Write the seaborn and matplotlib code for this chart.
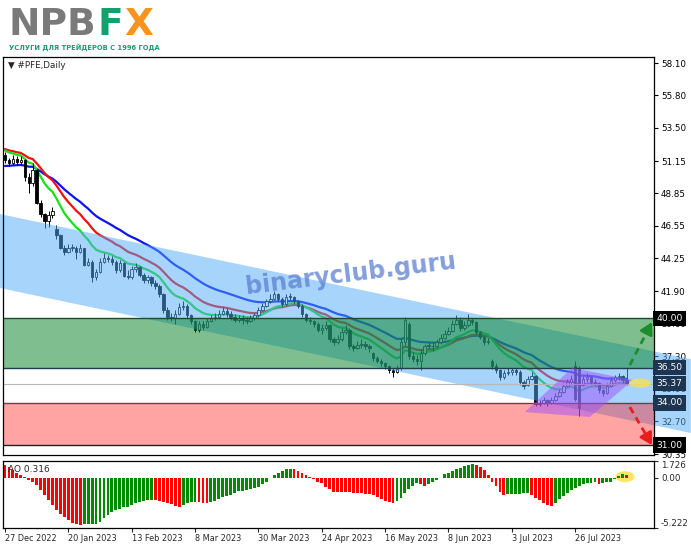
import numpy as np
import pandas as pd
import matplotlib
matplotlib.use("Agg")
import matplotlib.pyplot as plt
import seaborn as sns
from matplotlib.patches import Polygon, Ellipse

sns.set_style("white")
plt.rcParams['font.family'] = ['DejaVu Sans']

# ---- data ----
close = [51.2, 51.0, 51.3, 51.1, 51.2, 50.0, 49.6, 50.5, 48.2, 47.4,
         46.9, 47.3, 47.6, 45.9, 45.0, 44.7, 45.0, 45.0, 44.7, 45.0,
         43.8, 44.0, 42.9, 43.3, 44.0, 44.3, 44.2, 44.0, 43.4, 43.9,
         43.0, 42.9, 43.5, 43.6, 43.1, 42.7, 42.9, 42.5, 42.3, 41.7,
         40.6, 40.1, 40.0, 40.3, 40.8, 40.9, 40.2, 39.8, 39.2, 39.6,
         39.4, 39.8, 40.0, 40.1, 40.3, 40.5, 40.3, 40.1, 39.9, 40.0,
         39.9, 39.8, 40.0, 40.2, 40.6, 40.9, 41.2, 41.4, 41.7, 41.4,
         41.0, 41.5, 41.5, 41.2, 40.9, 40.3, 39.9, 39.8, 39.6, 39.2,
         39.3, 39.5, 38.5, 38.3, 38.5, 39.0, 39.2, 38.0, 37.9, 38.1,
         38.2, 38.0, 37.9, 37.2, 37.0, 36.8, 36.6, 36.3, 36.2, 36.4,
         38.3, 39.9, 37.3, 37.1, 37.0, 37.5, 38.0, 38.0, 38.0, 38.3,
         38.6, 38.9, 39.1, 39.6, 39.9, 39.3, 39.5, 39.9, 39.7, 39.0,
         38.7, 38.3, 38.4, 36.6, 36.3, 35.8, 36.1, 36.2, 36.3, 36.2,
         35.5, 35.2, 35.7, 35.9, 33.9, 34.0, 34.2, 34.0, 34.2, 34.5,
         34.8, 35.2, 35.5, 35.7, 34.3, 33.6, 35.7, 35.8, 35.5, 35.4,
         34.9, 34.7, 35.2, 35.6, 35.8, 35.9, 35.6, 35.37]
opens = [51.6, 51.2, 51.0, 51.3, 51.1, 51.2, 50.0, 49.6, 50.5, 48.2,
         47.4, 46.9, 47.3, 46.3, 45.9, 45.0, 44.7, 45.0, 45.0, 44.7,
         45.0, 43.8, 44.0, 42.9, 43.3, 44.0, 44.3, 44.2, 44.0, 43.4,
         43.9, 43.0, 42.9, 43.5, 43.6, 43.1, 42.7, 42.9, 42.5, 42.3,
         41.7, 40.6, 40.1, 40.0, 40.3, 40.8, 40.9, 40.2, 39.8, 39.2,
         39.6, 39.4, 39.8, 40.0, 40.1, 40.3, 40.5, 40.3, 40.1, 39.9,
         40.0, 39.9, 39.8, 40.0, 40.2, 40.6, 40.9, 41.2, 41.4, 41.7,
         41.4, 41.0, 41.6, 41.5, 41.2, 40.9, 40.3, 39.9, 39.8, 39.6,
         39.2, 39.3, 39.5, 38.5, 38.3, 38.5, 39.0, 39.2, 38.0, 37.9,
         38.1, 38.2, 38.0, 37.5, 37.2, 37.0, 36.8, 36.6, 36.3, 36.2,
         36.5, 38.3, 39.6, 37.3, 37.1, 37.0, 37.5, 38.1, 38.0, 38.0,
         38.3, 38.6, 38.9, 39.1, 39.6, 39.9, 39.3, 39.5, 39.9, 39.7,
         39.0, 38.7, 38.3, 37.0, 36.6, 36.3, 35.8, 36.1, 36.2, 36.3,
         36.2, 35.5, 35.3, 35.7, 35.9, 33.9, 34.0, 34.2, 34.0, 34.2,
         34.5, 34.8, 35.2, 35.5, 36.6, 36.4, 35.3, 35.7, 35.8, 35.5,
         35.4, 34.9, 34.7, 35.2, 35.6, 35.8, 35.9, 35.6]
highs = [51.8, 51.4, 51.6, 51.5, 51.5, 51.3, 50.3, 51.0, 50.6, 48.4,
         47.5, 47.6, 47.9, 46.6, 46.0, 45.2, 45.3, 45.3, 45.1, 45.3,
         45.0, 44.3, 44.1, 43.5, 44.3, 44.6, 44.5, 44.4, 44.1, 44.1,
         44.0, 43.4, 43.7, 43.9, 43.7, 43.2, 43.1, 43.0, 42.7, 42.4,
         41.8, 40.8, 40.4, 40.6, 41.1, 41.2, 41.0, 40.3, 39.9, 39.8,
         39.8, 40.0, 40.2, 40.4, 40.6, 40.8, 40.7, 40.5, 40.3, 40.2,
         40.2, 40.1, 40.2, 40.4, 40.8, 41.1, 41.4, 41.7, 41.9, 41.8,
         41.5, 41.7, 41.8, 41.6, 41.3, 41.0, 40.4, 40.1, 39.9, 39.7,
         39.6, 39.8, 39.6, 38.7, 38.8, 39.3, 39.5, 39.3, 38.2, 38.4,
         38.5, 38.4, 38.2, 37.6, 37.3, 37.1, 36.9, 36.7, 36.5, 36.7,
         38.6, 40.1, 39.7, 37.6, 37.4, 37.8, 38.2, 38.3, 38.3, 38.5,
         38.9, 39.2, 39.4, 39.9, 40.2, 40.1, 39.8, 40.3, 40.0, 39.8,
         39.1, 38.8, 38.6, 37.1, 36.8, 36.4, 36.3, 36.5, 36.5, 36.5,
         36.3, 35.6, 35.9, 36.2, 36.0, 34.2, 34.4, 34.3, 34.4, 34.7,
         35.0, 35.4, 35.7, 36.0, 37.0, 36.6, 35.9, 36.1, 35.9, 35.7,
         35.5, 35.0, 35.4, 35.8, 36.0, 36.1, 36.0, 36.5]
lows = [51.0, 50.8, 50.9, 50.9, 50.9, 49.7, 48.9, 49.4, 48.1, 47.2,
        46.4, 46.5, 47.1, 45.6, 44.9, 44.5, 44.6, 44.8, 44.2, 44.6,
        43.7, 43.7, 42.6, 42.7, 43.2, 43.9, 44.0, 43.8, 43.2, 43.3,
        42.9, 42.8, 42.8, 43.3, 42.9, 42.5, 42.5, 42.3, 42.1, 41.5,
        40.4, 39.9, 39.8, 39.6, 40.2, 40.6, 40.0, 39.6, 39.0, 39.0,
        39.2, 39.3, 39.7, 39.9, 40.0, 40.2, 40.1, 39.9, 39.7, 39.7,
        39.6, 39.6, 39.7, 39.9, 40.1, 40.5, 40.8, 41.1, 41.3, 41.2,
        40.8, 40.9, 41.3, 41.0, 40.7, 40.1, 39.7, 39.6, 39.4, 39.0,
        38.9, 39.2, 38.3, 38.1, 38.2, 38.4, 38.9, 37.8, 37.7, 37.8,
        37.9, 37.8, 37.6, 37.0, 36.8, 36.6, 36.4, 36.1, 35.8, 36.1,
        36.3, 38.0, 37.1, 36.9, 36.7, 36.3, 37.4, 37.8, 37.7, 37.9,
        38.2, 38.5, 38.8, 39.0, 39.5, 39.1, 39.2, 39.4, 39.5, 38.8,
        38.5, 38.1, 38.2, 36.4, 36.1, 35.6, 35.7, 36.0, 36.0, 36.0,
        35.3, 35.0, 35.2, 35.6, 33.8, 33.8, 33.9, 33.8, 33.9, 34.1,
        34.4, 34.7, 35.1, 35.4, 34.1, 33.1, 35.2, 35.5, 35.3, 35.2,
        34.7, 34.5, 34.6, 35.1, 35.5, 35.6, 35.4, 35.3]
ao = [1.30, 1.10, 0.75, 0.45, 0.28, 0.10, -0.24, -0.48, -0.76, -1.28,
      -1.80, -2.32, -2.83, -3.35, -3.77, -4.05, -4.39, -4.67, -4.80, -4.86,
      -4.84, -4.83, -4.82, -4.80, -4.56, -4.22, -3.87, -3.53, -3.35, -3.21,
      -3.08, -3.01, -2.84, -2.67, -2.49, -2.38, -2.32, -2.30, -2.31, -2.38,
      -2.49, -2.60, -2.77, -2.95, -3.01, -2.84, -2.67, -2.56, -2.49, -2.56,
      -2.67, -2.68, -2.56, -2.39, -2.25, -2.04, -1.91, -1.77, -1.56, -1.42,
      -1.35, -1.28, -1.21, -1.11, -0.93, -0.65, -0.41, -0.07, 0.28, 0.52,
      0.73, 0.87, 0.94, 0.87, 0.73, 0.52, 0.28, 0.04, -0.17, -0.41,
      -0.59, -0.93, -1.21, -1.45, -1.50, -1.51, -1.52, -1.53, -1.55, -1.58,
      -1.63, -1.66, -1.73, -1.83, -1.97, -2.18, -2.42, -2.53, -2.60, -2.42,
      -2.08, -1.56, -1.14, -0.87, -0.52, -0.69, -0.87, -0.69, -0.45, -0.24,
      -0.02, 0.35, 0.52, 0.69, 0.87, 1.04, 1.21, 1.31, 1.38, 1.31,
      1.14, 0.80, 0.24, -0.42, -0.87, -1.49, -1.76, -1.72, -1.68, -1.66,
      -1.65, -1.64, -1.63, -1.80, -2.08, -2.35, -2.60, -2.87, -2.94, -2.66,
      -2.25, -1.90, -1.56, -1.28, -1.04, -0.87, -0.69, -0.59, -0.52, -0.50,
      -0.62, -0.52, -0.50, -0.42, -0.10, 0.15, 0.35, 0.316]

date_labels = ["27 Dec 2022", "20 Jan 2023", "13 Feb 2023", "8 Mar 2023", "30 Mar 2023",
               "24 Apr 2023", "16 May 2023", "8 Jun 2023", "3 Jul 2023", "26 Jul 2023"]
date_bars = [0, 16, 32, 48, 64, 80, 96, 112, 128, 144]
price_ticks = [58.10, 55.80, 53.50, 51.15, 48.85, 46.55, 44.25, 41.90, 39.60, 37.30, 35.00, 32.70, 30.35]

# start values of the three averages at the left edge
ma_start = {'fast': 51.9, 'mid': 52.0, 'slow': 50.8}
ma_span = {'fast': 12, 'mid': 20, 'slow': 34}

# levels
zone_up = (36.50, 40.00)
zone_down = (31.00, 34.00)
last_price = 35.37
channel_x = [-1.26, 173.2]
channel_top = [47.39, 37.10]
channel_bot = [42.14, 31.86]
wedge = [(131.3, 33.35), (143.2, 36.47), (158.6, 35.62), (147.7, 33.0)]


def ema(values, span, start):
    k = 2.0 / (span + 1)
    out = [start]
    for v in values[1:]:
        out.append(out[-1] + k * (v - out[-1]))
    return np.array(out)


df = pd.DataFrame({'bar': np.arange(len(close)), 'open': opens, 'high': highs,
                   'low': lows, 'close': close, 'ao': ao})
for name in ma_span:
    df[name] = ema(close, ma_span[name], ma_start[name])

W, H = 691, 549
fig = plt.figure(figsize=(W / 100, H / 100), dpi=100)


def fx(px):
    return px / W


def fy(py):
    return 1 - py / H


ax = fig.add_axes([fx(3), fy(455), fx(654) - fx(3), fy(57) - fy(455)])
ax2 = fig.add_axes([fx(3), fy(528), fx(654) - fx(3), fy(461) - fy(528)])

# moving averages
sns.lineplot(data=df, x='bar', y='slow', color='#0A14F0', lw=1.6, ax=ax, zorder=1)
sns.lineplot(data=df, x='bar', y='mid', color='#F01010', lw=1.6, ax=ax, zorder=1)
sns.lineplot(data=df, x='bar', y='fast', color='#18E018', lw=1.6, ax=ax, zorder=1)

# candles
up = df['close'] >= df['open']
ax.vlines(df['bar'], df['low'], df['high'], color='black', lw=0.7, zorder=1.1)
body = (df['close'] - df['open']).abs().clip(lower=0.06)
ax.bar(df['bar'], body, bottom=df[['open', 'close']].min(axis=1), width=0.62,
       color=np.where(up, 'white', 'black'), edgecolor='black', linewidth=0.6, zorder=1.2)

# channel (runs over the price scale on the right)
chan = Polygon([(channel_x[0], channel_top[0]), (channel_x[1], channel_top[1]),
                (channel_x[1], channel_bot[1]), (channel_x[0], channel_bot[0])],
               closed=True, fc='#51ABF7', alpha=0.5, ec='none', zorder=1.5, clip_on=False)
ax.add_patch(chan)

# zones
ax.axhspan(*zone_up, fc='#018121', alpha=0.5, ec='none', zorder=1.6)
ax.axhspan(*zone_down, fc='#FF1919', alpha=0.4, ec='none', zorder=1.6)
ax.axhline(zone_up[1], color='#1E4A2E', lw=1.0, zorder=1.7)
ax.axhline(zone_up[0], color='#1E3F4A', lw=1.0, zorder=1.7)
ax.axhline(zone_down[1], color='#7A3A4A', lw=1.0, zorder=1.7)
ax.axhline(zone_down[0], color='#202020', lw=1.0, zorder=1.7)
ax.axhline(last_price, color='#B8B8B8', lw=0.8, zorder=1.7)

ax.add_patch(Polygon(wedge, closed=True, fc='#A050FF', alpha=0.5, ec='none', zorder=1.8))
ax.add_patch(Ellipse((160.4, 35.4), 5.5, 0.65, fc='#FFE14D', alpha=0.75, ec='none', zorder=1.9))

# forecast arrows
for (x0, y0), (x1, y1), col in [((157.8, 36.68), (163.4, 39.73), '#1E8C2A'),
                                 ((157.8, 33.70), (163.4, 31.00), '#E81E1E')]:
    xm, ym = x0 + 0.78 * (x1 - x0), y0 + 0.78 * (y1 - y0)
    ax.plot([x0, xm], [y0, ym], ls=(0, (2.5, 1.8)), color=col, lw=2.0, zorder=2.0, clip_on=False)
    ax.annotate('', xy=(x1, y1), xytext=(xm, ym), annotation_clip=False, zorder=2.0,
                arrowprops=dict(arrowstyle='-|>,head_length=0.7,head_width=0.4', color=col,
                                lw=2.0, shrinkA=0, shrinkB=0))

ax.text(87.4, 43.1, 'binaryclub.guru', rotation=7, fontsize=17, fontweight='bold',
        color='#5A7FD2', alpha=0.75, ha='center', va='center', zorder=2.2)

ax.set_xlim(-0.5, 163.9)
ax.set_ylim(30.30, 58.53)
ax.set_xlabel('')
ax.set_ylabel('')
ax.set_xticks([])
ax.yaxis.tick_right()
ax.set_yticks(price_ticks)
ax.set_yticklabels([f'{v:.2f}' for v in price_ticks])
ax.tick_params(axis='y', labelsize=6.3, length=3, width=0.8, pad=2, colors='black')

# price label boxes
ytr = ax.get_yaxis_transform()
for val, bg in [(40.00, 'black'), (36.50, '#1B3552'), (last_price, '#1B3552'),
                (34.00, '#1B3552'), (31.00, 'black')]:
    ax.text(1.004, val, f'{val:.2f}', transform=ytr, fontsize=6.6, color='white',
            ha='left', va='center', zorder=3,
            bbox=dict(boxstyle='square,pad=0.35', fc=bg, ec='none'))

# AO panel
cols = ['#FF0000'] + ['#008A00' if ao[i] > ao[i - 1] else '#FF0000' for i in range(1, len(ao))]
ax2.add_patch(Ellipse((156.6, 0.1), 4.8, 1.15, fc='#FFE14D', alpha=0.85, ec='none', zorder=0.5))
ax2.bar(df['bar'], df['ao'], width=0.72, color=cols, ec='none', zorder=1)
ax2.set_xlim(-0.5, 163.9)
ax2.set_ylim(-5.222, 1.726)
ax2.yaxis.tick_right()
ax2.set_yticks([1.726, 0.0, -5.222])
ax2.set_yticklabels(['1.726', '0.00', '-5.222'])
ax2.tick_params(axis='y', labelsize=6.3, length=3, width=0.8, pad=2)
labs = ax2.get_yticklabels()
labs[0].set_va('top')
labs[2].set_va('bottom')
ax2.set_xticks(date_bars)
ax2.set_xticklabels(date_labels)
ax2.tick_params(axis='x', labelsize=5.9, length=3, width=0.8, pad=1, direction='out', bottom=True)
for lbl in ax2.get_xticklabels():
    lbl.set_ha('left')
ax2.text(0.008, 0.88, 'AO 0.316', transform=ax2.transAxes, fontsize=6.5, ha='left', va='center')

for a in (ax, ax2):
    for s in a.spines.values():
        s.set_color('black')
        s.set_linewidth(0.9)

# header
fig.text(fx(8), fy(66), '\u25BC #PFE,Daily', fontsize=6.3, ha='left', va='center')
fig.text(fx(8), fy(35), 'NPB', fontsize=27, fontweight='bold', color='#7A7A7A', va='baseline')
fig.text(fx(98), fy(35), 'F', fontsize=27, fontweight='bold', color='#14A06C', va='baseline')
fig.text(fx(124.5), fy(35), 'X', fontsize=27, fontweight='bold', color='#F7941D', va='baseline')
fig.text(fx(9), fy(50), 'УСЛУГИ ДЛЯ ТРЕЙДЕРОВ С 1996 ГОДА', fontsize=5.4, fontweight='bold',
         fontstretch='condensed', color='#14A06C', va='baseline')

fig.savefig('out.png', dpi=100)
